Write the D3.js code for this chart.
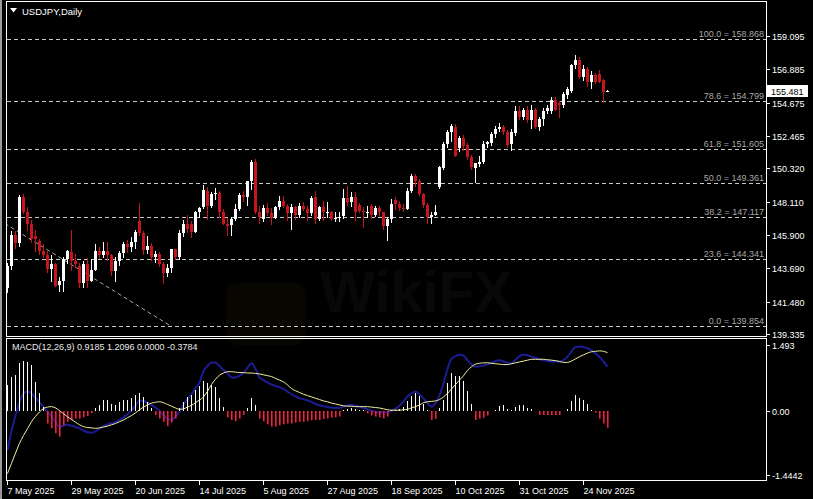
<!DOCTYPE html>
<html><head><meta charset="utf-8">
<script src="https://cdn.jsdelivr.net/npm/d3@7"></script>
<style>html,body{margin:0;padding:0;background:#000;overflow:hidden}svg{display:block}</style>
</head><body><svg id="c" width="813" height="499"></svg>
<script>
// ---------- DATA ----------
const openP=[142.40,143.85,145.90,145.40,148.40,147.45,146.65,145.85,145.50,144.85,
144.55,143.65,144.00,142.60,142.85,144.30,144.80,144.15,143.85,142.70,
143.95,142.85,143.55,144.85,144.55,144.85,144.55,143.50,144.15,144.70,
145.30,145.10,145.45,146.85,146.05,144.90,145.20,144.45,144.65,144.00,
143.40,143.70,144.95,144.45,146.05,146.60,146.65,146.10,147.40,147.75,
148.85,147.85,148.60,148.70,147.40,146.65,146.55,146.95,147.65,148.55,
148.45,149.45,150.75,147.40,146.95,147.70,147.35,147.05,147.75,148.15,
147.85,147.35,147.75,147.20,147.85,147.65,147.35,148.45,146.95,147.75,
147.35,147.45,146.95,147.05,147.15,148.35,148.10,148.45,147.90,147.50,
147.40,147.85,147.20,147.70,147.40,146.50,146.95,148.25,147.95,147.70,
147.60,148.85,149.80,149.50,148.60,147.90,147.10,147.20,149.10,150.35,
151.95,152.70,153.05,151.65,152.30,151.85,151.05,150.35,150.60,150.75,
151.95,152.00,152.60,152.90,153.05,152.70,151.95,152.65,154.15,153.75,
154.20,153.50,154.20,153.05,153.60,154.10,154.10,154.85,154.65,154.50,
155.20,155.45,157.15,157.50,156.35,156.90,156.05,156.50,156.60,156.15,155.44];
const highP=[144.05,146.15,146.15,148.55,148.60,147.75,146.90,146.20,145.65,145.30,
144.85,144.60,144.05,143.10,144.45,144.90,146.25,144.65,144.05,144.20,
144.35,144.30,145.30,145.10,145.45,145.45,144.65,144.45,144.85,145.45,
145.60,145.80,146.25,148.05,146.15,145.85,145.35,144.85,144.75,144.10,
143.95,145.00,145.00,146.25,146.90,147.20,146.85,147.50,147.75,149.20,
149.05,148.75,149.00,148.80,147.60,147.00,147.10,147.95,148.70,148.85,
149.50,150.90,150.95,147.85,147.90,148.00,147.70,147.85,148.50,148.50,
147.95,147.95,147.85,148.00,148.10,147.80,148.50,148.80,147.85,148.15,
148.10,147.50,147.40,147.40,148.95,149.15,148.75,148.75,148.00,147.75,
147.80,147.95,147.85,147.80,147.45,147.10,148.30,148.40,148.15,147.95,
149.00,149.95,149.95,149.60,148.70,148.00,147.45,147.90,150.50,152.05,
152.85,153.25,153.25,152.45,152.55,152.00,151.20,150.70,151.15,152.10,
152.15,152.75,153.15,153.30,153.20,152.85,152.95,154.45,154.45,154.35,
154.45,154.50,154.35,153.75,154.35,154.50,155.05,155.05,154.80,155.40,
155.70,157.25,157.85,157.70,157.15,157.05,156.75,156.65,156.85,156.25,155.52];
const lowP=[142.05,143.55,144.95,145.10,147.30,146.15,145.40,144.80,144.60,144.35,
143.40,142.80,142.45,142.10,142.10,144.00,143.50,143.70,142.40,142.40,
142.40,142.80,143.50,144.30,144.35,144.15,143.20,142.80,143.85,144.40,
144.70,144.75,145.00,145.85,144.60,144.65,144.15,144.05,143.75,142.65,
143.10,143.40,144.25,144.25,145.75,146.00,145.70,146.00,147.00,147.60,
146.90,147.70,148.20,147.05,146.55,145.85,145.85,146.85,147.50,148.10,
147.80,148.90,147.30,146.65,146.75,147.15,146.55,146.95,147.55,147.70,
146.85,146.25,146.90,147.05,147.50,146.85,147.15,146.60,146.80,146.85,
147.00,146.85,146.75,146.75,146.95,147.85,147.75,146.80,147.35,146.35,
147.00,146.95,147.10,147.10,146.25,145.50,146.70,147.55,147.50,147.40,
147.55,148.70,149.10,148.50,147.70,146.60,146.65,147.15,148.95,150.20,
151.65,152.05,151.05,151.40,151.50,150.90,150.20,149.35,150.40,150.60,
151.65,151.80,152.30,152.70,152.55,151.70,151.50,152.45,153.55,153.50,
153.35,152.95,152.95,152.80,153.10,153.90,153.95,154.10,153.65,154.35,
154.90,155.30,156.90,156.25,156.10,155.70,155.60,155.90,155.95,154.65,155.42];
const closeP=[143.85,145.90,145.35,148.40,147.45,146.65,145.65,145.65,144.85,144.55,
143.65,144.00,142.55,142.85,144.30,144.85,144.15,143.95,142.70,143.95,
142.85,143.55,144.85,144.55,144.85,144.55,143.50,144.15,144.70,145.30,
145.10,145.45,146.10,146.05,144.90,145.20,144.45,144.65,144.00,143.40,
143.70,144.95,144.45,146.05,146.60,146.30,146.10,147.40,147.70,148.90,
147.85,148.60,148.70,147.40,146.65,146.50,146.95,147.65,148.55,148.45,
149.45,150.75,147.40,147.10,147.70,147.35,147.05,147.75,148.15,147.85,
147.35,147.75,147.20,147.85,147.65,147.35,148.35,146.95,147.75,147.40,
147.45,146.95,147.05,147.10,148.35,148.10,148.45,147.40,147.50,147.40,
147.45,147.20,147.70,147.40,146.50,146.95,147.95,147.95,147.70,147.60,
148.85,149.80,149.50,148.60,147.90,147.10,147.25,147.45,150.40,151.95,
152.70,153.10,151.15,152.30,151.80,151.05,150.40,150.65,150.75,151.95,
152.05,152.60,152.90,153.05,152.70,151.85,152.70,154.15,153.70,154.20,
153.55,154.20,153.05,153.60,154.15,154.35,154.85,154.20,154.50,155.25,
155.55,157.15,157.50,156.35,156.90,156.05,156.50,156.05,156.05,155.40,155.48];

const histVals=[0.59,0.78,0.81,1.08,1.14,1.12,1.05,0.66,0.40,0.10,
-0.28,-0.39,-0.50,-0.58,-0.32,-0.24,-0.20,-0.17,-0.17,-0.14,
-0.11,-0.05,0.06,0.14,0.24,0.25,0.16,0.14,0.21,0.25,
0.25,0.29,0.36,0.40,0.31,0.21,0.06,-0.09,-0.17,-0.24,
-0.34,-0.26,-0.17,0.06,0.21,0.31,0.36,0.47,0.57,0.69,
0.63,0.59,0.55,0.29,0.10,-0.14,-0.20,-0.23,-0.17,-0.09,
0.06,0.29,0.14,-0.17,-0.23,-0.30,-0.35,-0.35,-0.32,-0.30,
-0.28,-0.28,-0.26,-0.24,-0.24,-0.23,-0.21,-0.20,-0.20,-0.18,
-0.17,-0.15,-0.14,-0.12,0.02,0.05,0.08,0.05,0.03,0.02,
-0.05,-0.10,-0.12,-0.14,-0.17,-0.12,0.02,0.03,0.05,0.10,
0.22,0.34,0.41,0.34,0.17,0.03,-0.20,-0.18,0.06,0.24,
0.63,0.86,0.79,0.79,0.68,0.45,0.17,-0.20,-0.17,-0.15,
-0.10,0.00,0.02,0.11,0.14,0.04,0.02,0.10,0.14,0.14,
0.08,0.04,0.00,-0.09,-0.09,-0.09,-0.09,-0.09,-0.09,0.00,
0.04,0.23,0.36,0.29,0.26,0.16,0.02,-0.03,-0.17,-0.28,-0.3784];
const signalVals=[-1.41,-1.18,-0.95,-0.73,-0.55,-0.40,-0.24,-0.12,-0.02,0.06,
0.09,0.10,0.07,0.01,-0.06,-0.13,-0.19,-0.25,-0.31,-0.35,
-0.37,-0.38,-0.39,-0.38,-0.36,-0.34,-0.31,-0.28,-0.24,-0.20,
-0.15,-0.10,-0.04,0.03,0.09,0.14,0.18,0.20,0.21,0.19,
0.15,0.11,0.07,0.04,0.05,0.09,0.13,0.19,0.25,0.32,
0.45,0.60,0.72,0.81,0.86,0.89,0.89,0.88,0.87,0.87,
0.86,0.86,0.85,0.84,0.82,0.80,0.78,0.74,0.70,0.66,
0.59,0.51,0.46,0.42,0.38,0.35,0.32,0.29,0.26,0.23,
0.21,0.18,0.16,0.14,0.12,0.11,0.11,0.10,0.10,0.10,
0.10,0.09,0.08,0.07,0.05,0.03,0.02,0.02,0.02,0.03,
0.04,0.07,0.10,0.14,0.19,0.21,0.22,0.23,0.26,0.32,
0.40,0.50,0.60,0.70,0.80,0.92,1.00,1.06,1.08,1.09,
1.09,1.08,1.07,1.06,1.05,1.05,1.07,1.09,1.11,1.13,
1.15,1.17,1.17,1.17,1.17,1.16,1.15,1.14,1.12,1.10,
1.10,1.13,1.18,1.23,1.27,1.31,1.34,1.35,1.36,1.35,1.32];
const macdVals=[-0.88,-0.45,-0.10,0.20,0.40,0.45,0.40,0.30,0.20,0.10,
-0.02,-0.12,-0.25,-0.35,-0.33,-0.31,-0.33,-0.36,-0.39,-0.44,
-0.48,-0.49,-0.46,-0.39,-0.34,-0.30,-0.27,-0.25,-0.20,-0.14,
-0.07,0.02,0.12,0.24,0.23,0.19,0.14,0.08,0.00,-0.10,
-0.17,-0.20,-0.12,-0.01,0.15,0.27,0.38,0.52,0.65,0.90,
1.02,1.10,1.10,1.02,0.93,0.85,0.76,0.76,0.80,0.86,
0.98,1.08,0.95,0.76,0.70,0.65,0.60,0.57,0.54,0.50,
0.44,0.38,0.33,0.29,0.27,0.24,0.21,0.16,0.13,0.11,
0.09,0.08,0.07,0.07,0.10,0.13,0.14,0.12,0.10,0.07,
0.04,0.01,-0.02,-0.03,-0.03,-0.02,0.00,0.05,0.12,0.22,
0.33,0.40,0.44,0.38,0.28,0.18,0.10,0.18,0.35,0.63,
0.95,1.18,1.24,1.27,1.25,1.15,1.06,1.00,1.01,1.03,
1.05,1.09,1.13,1.15,1.12,1.09,1.08,1.16,1.24,1.27,
1.26,1.23,1.20,1.17,1.15,1.13,1.12,1.12,1.12,1.15,
1.23,1.35,1.45,1.46,1.45,1.42,1.37,1.30,1.22,1.12,1.00];

const priceTicks=[159.095,156.885,154.675,152.465,150.320,148.110,145.900,143.690,141.480,139.335];
const macdTicks=[1.493,0.00,-1.4442];
const macdTickLabels=["1.493","0.00","-1.4442"];
const fibLevels=[100.0,78.6,61.8,50.0,38.2,23.6,0.0];
const fibPrices=[158.868,154.799,151.605,149.361,147.117,144.341,139.854];
const dateLabels=["7 May 2025","29 May 2025","20 Jun 2025","14 Jul 2025","5 Aug 2025","27 Aug 2025","18 Sep 2025","10 Oct 2025","31 Oct 2025","24 Nov 2025"];
const dateIdx=[0,16,32,48,64,80,96,112,128,144];
const lastPrice=155.481;
const trendIdx=[-75,41];
const trendPrice=[158.868,139.854];
const title="USDJPY,Daily";
const macdTitle="MACD(12,26,9) 0.9185 1.2096 0.0000 -0.3784";

// ---------- DRAW ----------
const svg=d3.select("#c");
const FONT="'Liberation Sans', Arial, sans-serif";
const bull="#ffffff", bear="#c4161c";

svg.append("rect").attr("width",813).attr("height",499).attr("fill","#000");
svg.append("rect").attr("x",0).attr("y",0).attr("width",2).attr("height",499).attr("fill","#9a9a9a");

const x=d3.scaleLinear().domain([0,150]).range([7,607]);
const y=d3.scaleLinear().domain([139.335,159.095]).range([334,36]);
const ym=d3.scaleLinear().domain([-1.4442,1.493]).range([475,345]);

// watermark
const wm=svg.append("g").attr("opacity",0.035);
wm.append("rect").attr("x",226).attr("y",283).attr("width",80).attr("height",62).attr("rx",12).attr("fill","#e0b020");
wm.append("text").attr("x",320).attr("y",312).attr("font-family",FONT).attr("font-weight","bold").attr("font-size",58).attr("fill","#ddd").text("WikiFX");

const n=closeP.length;
const idx=d3.range(n);

// fib levels
const fib=svg.append("g");
fibPrices.forEach((p,k)=>{
  const yy=Math.round(y(p))+0.5;
  fib.append("line").attr("x1",7).attr("x2",766).attr("y1",yy).attr("y2",yy)
    .attr("stroke","#c8c8c8").attr("stroke-width",1).attr("stroke-dasharray","4,3").attr("shape-rendering","crispEdges");
  fib.append("text").attr("x",764).attr("y",yy-2.5).attr("text-anchor","end")
    .attr("font-family",FONT).attr("font-size",9).attr("fill","#a8a8a8")
    .text(fibLevels[k].toFixed(1)+" = "+p.toFixed(3));
});
svg.append("clipPath").attr("id","mainclip").append("rect").attr("x",7).attr("y",2).attr("width",759).attr("height",334);
svg.append("line").attr("clip-path","url(#mainclip)")
  .attr("x1",x(trendIdx[0])).attr("y1",y(trendPrice[0])).attr("x2",x(trendIdx[1])).attr("y2",y(trendPrice[1]))
  .attr("stroke","#c8c8c8").attr("stroke-width",1).attr("stroke-dasharray","4,3").attr("opacity",0.85);

// candles
const cg=svg.append("g").attr("shape-rendering","crispEdges");
idx.forEach(i=>{
  const up=closeP[i]>=openP[i];
  const col=up?bull:bear;
  const cx=Math.round(x(i));
  cg.append("line").attr("x1",cx+0.5).attr("x2",cx+0.5)
    .attr("y1",y(highP[i])).attr("y2",y(lowP[i])).attr("stroke",col).attr("stroke-width",1);
  const yt=y(Math.max(openP[i],closeP[i])), yb=y(Math.min(openP[i],closeP[i]));
  cg.append("rect").attr("x",cx-1).attr("width",3).attr("y",yt).attr("height",Math.max(1,yb-yt)).attr("fill",col);
});

// frames
const fr=svg.append("g").attr("fill","none").attr("stroke","#fff").attr("stroke-width",1).attr("shape-rendering","crispEdges");
fr.append("rect").attr("x",6.5).attr("y",1.5).attr("width",760).attr("height",335);
fr.append("rect").attr("x",6.5).attr("y",338.5).attr("width",760).attr("height",142);

// title
svg.append("path").attr("d","M10,8 L17,8 L13.5,12.5 Z").attr("fill","#fff");
svg.append("text").attr("x",22).attr("y",15).attr("font-family",FONT).attr("font-size",9.5).attr("fill","#fff").text(title);

// price axis
const pa=svg.append("g");
priceTicks.forEach(p=>{
  const yy=Math.round(y(p))+0.5;
  pa.append("line").attr("x1",766).attr("x2",770).attr("y1",yy).attr("y2",yy).attr("stroke","#fff").attr("shape-rendering","crispEdges");
  pa.append("text").attr("x",772).attr("y",yy+3.5).attr("font-family",FONT).attr("font-size",9).attr("fill","#fff").text(p.toFixed(3));
});
const ly=Math.round(y(lastPrice));
pa.append("rect").attr("x",767).attr("y",ly-6).attr("width",41).attr("height",12).attr("fill","#fff");
pa.append("text").attr("x",771).attr("y",ly+3.5).attr("font-family",FONT).attr("font-size",9).attr("fill","#000").text(lastPrice.toFixed(3));

// MACD panel
const mg=svg.append("g");
svg.append("clipPath").attr("id","mclip").append("rect").attr("x",7).attr("y",339).attr("width",759).attr("height",141);
mg.append("path").datum(macdVals).attr("clip-path","url(#mclip)")
  .attr("d",d3.line().x((d,i)=>x(i)+0.5).y(d=>ym(d)).curve(d3.curveMonotoneX))
  .attr("fill","none").attr("stroke","#1c1c92").attr("stroke-width",2);
const hg=mg.append("g");
idx.forEach(i=>{
  const cx=Math.round(x(i))+0.5;
  const v=histVals[i];
  if(v===0) return;
  if(v>0){
    hg.append("line").attr("x1",cx).attr("x2",cx).attr("y1",ym(0)).attr("y2",ym(v))
      .attr("stroke","#ffffff").attr("stroke-width",1).attr("shape-rendering","crispEdges");
  } else {
    hg.append("line").attr("x1",cx+0.3).attr("x2",cx+0.3).attr("y1",ym(0)).attr("y2",ym(v))
      .attr("stroke","#f0203e").attr("stroke-width",1.6);
  }
});
mg.append("path").datum(signalVals).attr("clip-path","url(#mclip)")
  .attr("d",d3.line().x((d,i)=>x(i)+0.5).y(d=>ym(d)).curve(d3.curveMonotoneX))
  .attr("fill","none").attr("stroke","#f4f0a0").attr("stroke-width",1);
mg.append("text").attr("x",12).attr("y",350).attr("font-family",FONT).attr("font-size",9).attr("fill","#e8e8e8").text(macdTitle);
macdTicks.forEach((v,k)=>{
  const yy=Math.round(ym(v))+0.5;
  mg.append("line").attr("x1",766).attr("x2",770).attr("y1",yy).attr("y2",yy).attr("stroke","#fff").attr("shape-rendering","crispEdges");
  mg.append("text").attr("x",772).attr("y",yy+3.5).attr("font-family",FONT).attr("font-size",9).attr("fill","#fff").text(macdTickLabels[k]);
});

// date axis
const da=svg.append("g");
dateIdx.forEach((di,k)=>{
  const xx=Math.round(x(di))+0.5;
  da.append("line").attr("x1",xx).attr("x2",xx).attr("y1",480).attr("y2",485).attr("stroke","#fff").attr("shape-rendering","crispEdges");
  da.append("text").attr("x",xx).attr("y",494).attr("font-family",FONT).attr("font-size",9).attr("fill","#fff").text(dateLabels[k]);
});
</script></body></html>
